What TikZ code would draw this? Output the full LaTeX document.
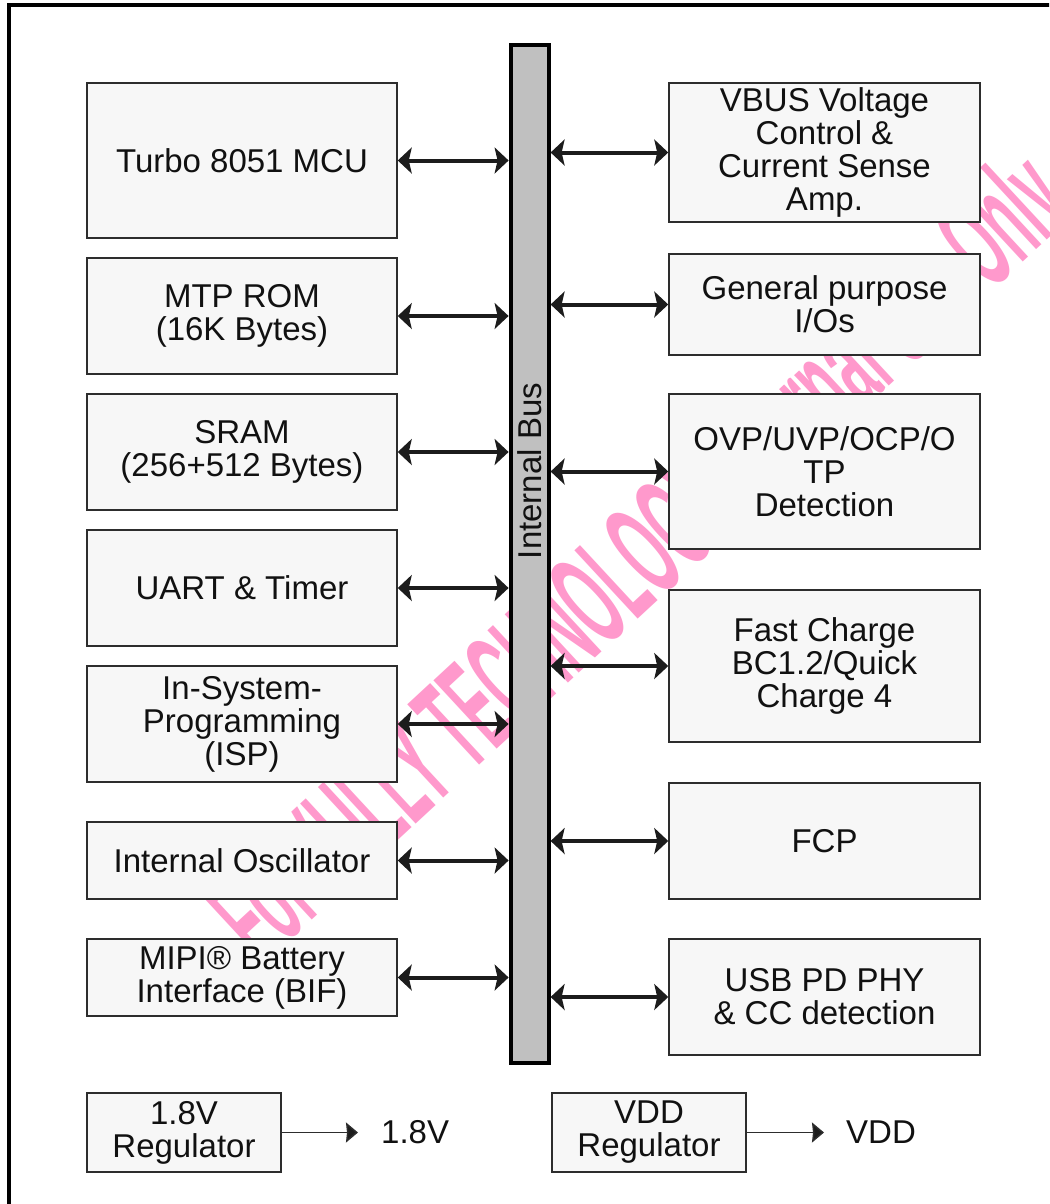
\documentclass[tikz,border=0pt]{standalone}
\usepackage{fontspec}
\usepackage{graphicx}
\setmainfont{Liberation Sans}
\usetikzlibrary{arrows.meta}
\definecolor{boxfill}{RGB}{247,247,247}
\definecolor{boxline}{RGB}{45,45,45}
\definecolor{busfill}{RGB}{192,192,192}
\definecolor{arrowc}{RGB}{28,28,28}
\definecolor{wmpink}{RGB}{255,153,204}
\definecolor{txt}{RGB}{17,17,17}
\begin{document}
\begin{tikzpicture}[x=1pt,y=-1pt,
  blk/.style={draw=boxline, fill=boxfill, line width=1.5pt, inner sep=0pt, align=center, text=txt, font=\fontsize{33}{33}\selectfont},
  busarrow/.style={line width=4pt, draw=arrowc, {Stealth[length=14pt,width=26pt,inset=3pt]}-{Stealth[length=14pt,width=26pt,inset=3pt]}},
  outarrow/.style={line width=1.5pt, draw=boxline, -{Stealth[length=12pt,width=20pt,inset=1pt,fill=arrowc]}},
  lbl/.style={inner sep=0pt, text=txt, font=\fontsize{33}{33}\selectfont}]
\useasboundingbox (0,0) rectangle (1049,1204);
\clip (0,0) rectangle (1049,1204);
\fill[white] (0,0) rectangle (1049,1204);
% watermark
\node[text=wmpink, anchor=base west, rotate=42.8, inner sep=0pt] (wm) at (262,967)
  {\resizebox{1110pt}{98pt}{\bfseries For YULLY TECHNOLOGY Internal Use Only}};
% frame
\draw[line width=4pt, black] (9,5.5) rectangle (1075,1230);
% bus
\node[draw=black, fill=busfill, line width=4pt, minimum width=38pt, minimum height=1018pt, inner sep=0pt] (bus) at (529.6,554) {};
\node[lbl, rotate=90] (buslbl) at (529.6,471) {Internal Bus};
% left blocks
\node[blk, minimum width=310pt, minimum height=155pt] (mcu) at (242,160.5) {Turbo 8051 MCU};
\node[blk, minimum width=310pt, minimum height=116pt] (mtp) at (242,316) {MTP ROM\\(16K Bytes)};
\node[blk, minimum width=310pt, minimum height=116pt] (sram) at (242,452) {SRAM\\(256+512 Bytes)};
\node[blk, minimum width=310pt, minimum height=116pt] (uart) at (242,588) {UART \& Timer};
\node[blk, minimum width=310pt, minimum height=116pt] (isp) at (242,724) {In-System-\\Programming\\(ISP)};
\node[blk, minimum width=310pt, minimum height=77pt] (osc) at (242,860.5) {Internal Oscillator};
\node[blk, minimum width=310pt, minimum height=77pt] (mipi) at (242,977.5) {MIPI® Battery\\Interface (BIF)};
% right blocks
\node[blk, minimum width=311pt, minimum height=139pt] (vbus) at (824.5,152.5) {VBUS Voltage\\Control \&\\Current Sense\\Amp.};
\node[blk, minimum width=311pt, minimum height=101pt] (gpio) at (824.5,304.5) {General purpose\\I/Os};
\node[blk, minimum width=311pt, minimum height=155pt] (ovp) at (824.5,471.5) {OVP/UVP/OCP/O\\TP\\Detection};
\node[blk, minimum width=311pt, minimum height=152pt] (fc) at (824.5,666) {Fast Charge\\BC1.2/Quick\\Charge 4};
\node[blk, minimum width=311pt, minimum height=116pt] (fcp) at (824.5,841) {FCP};
\node[blk, minimum width=311pt, minimum height=116pt] (usb) at (824.5,997) {USB PD PHY\\\& CC detection};
% bus arrows
\foreach \n in {mcu,mtp,sram,uart,isp,osc,mipi}
  \draw[busarrow] (\n.east) -- (\n.east -| bus.west);
\foreach \n in {vbus,gpio,ovp,fc,fcp,usb}
  \draw[busarrow] (\n.west -| bus.east) -- (\n.west);
% regulators
\node[blk, minimum width=194pt, minimum height=79pt] (reg18) at (184,1132.5) {1.8V\\Regulator};
\node[blk, minimum width=194pt, minimum height=79pt] (regvdd) at (649,1132.5) {VDD\\Regulator};
\node[lbl, anchor=west] (v18) at (381,1132) {1.8V};
\node[lbl, anchor=west] (vdd) at (846,1132) {VDD};
\draw[outarrow, shorten >=23pt] (reg18.east) -- (reg18.east -| v18.west);
\draw[outarrow, shorten >=22pt] (regvdd.east) -- (regvdd.east -| vdd.west);
\end{tikzpicture}
\end{document}
